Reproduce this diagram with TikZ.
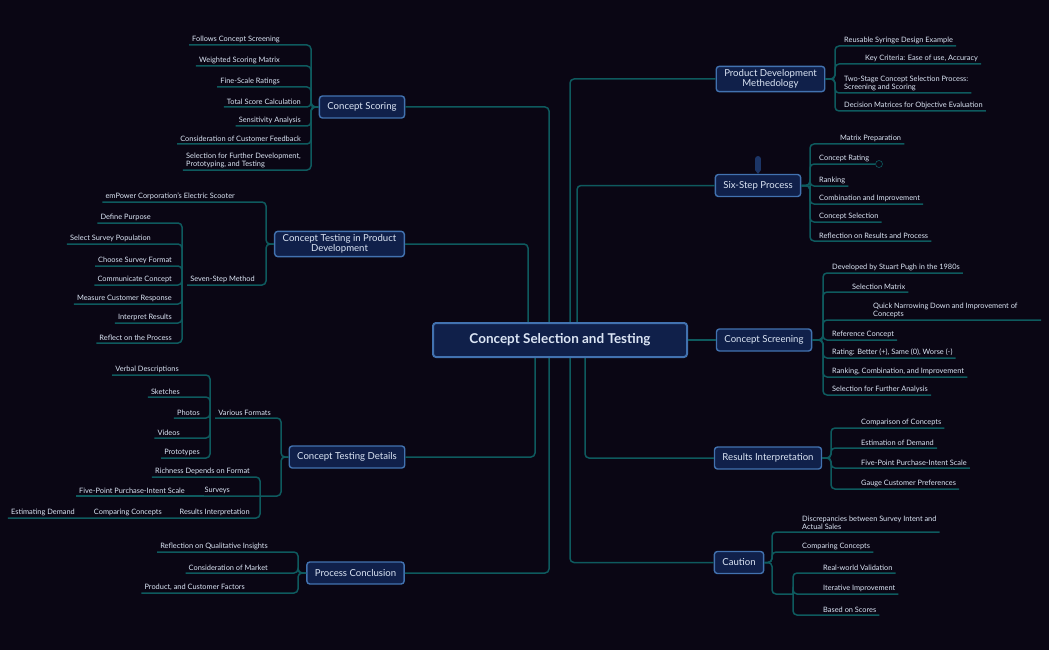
\documentclass[tikz,border=0pt]{standalone}
\usepackage{fontspec}
\setmainfont{Lato}
\usetikzlibrary{calc}
\definecolor{bg}{HTML}{0A0614}
\definecolor{ln}{HTML}{0E5A5E}
\definecolor{bfill}{HTML}{10204A}
\definecolor{bdraw}{HTML}{4272B0}
\definecolor{tx}{HTML}{DCE6F5}
\definecolor{pinc}{HTML}{1C3566}
\tikzset{
  conn/.style={draw=ln,line width=1.5pt,rounded corners=4pt},
  leaf/.style={text=tx,font=\fontsize{7.4}{7.8}\selectfont,inner xsep=0pt,inner ysep=2pt,align=left},
  branch/.style={draw=bdraw,fill=bfill,line width=1.4pt,rounded corners=3pt,text=tx,font=\fontsize{9.6}{10.8}\selectfont,inner xsep=8pt,minimum height=22pt,align=center},
  center/.style={draw=bdraw,fill=bfill,line width=2pt,rounded corners=3pt,text=tx,font=\fontsize{13.5}{15}\selectfont\bfseries,minimum width=254pt,minimum height=34pt}
}
\newcommand\lfR[6]{\node[leaf,anchor=south west] (#6) at (#4,#3) {#5};
  \draw[conn] (#1) -- (#2) |- ($(#6.south east)+(3,0)$);}
\newcommand\lfL[6]{\node[leaf,anchor=south east] (#6) at (#4,#3) {#5};
  \draw[conn] (#1) -- (#2) |- ($(#6.south west)+(-3,0)$);}
\begin{document}
\begin{tikzpicture}[x=1pt,y=-1pt]
\fill[bg] (0,0) rectangle (1049,650);
\useasboundingbox (0,0) rectangle (1049,650);
\coordinate (x549) at (549,0);
\coordinate (x528) at (528,0);
\coordinate (x535) at (535,0);
\coordinate (x570) at (570,0);
\coordinate (x577) at (577,0);
\coordinate (x585) at (585,0);
\node[branch] (CS) at (362,107) {Concept Scoring};
\node[branch] (CTPD) at (339.5,244) {Concept Testing in Product\\[-1pt]Development};
\node[branch] (CTD) at (347,457) {Concept Testing Details};
\node[branch] (PC) at (355.5,573) {Process Conclusion};
\node[branch] (PDM) at (770.5,79) {Product Development\\[-1pt]Methedology};
\node[branch] (SSP) at (758,185.5) {Six-Step Process};
\node[branch] (CSc) at (764,340) {Concept Screening};
\node[branch] (RI) at (768,458) {Results Interpretation};
\node[branch] (Ca) at (739,562.5) {Caution};
\coordinate (ctop) at (559,323);
\coordinate (cbot) at (559,357);
\draw[conn] (ctop -| x549) |- (CS.east);
\draw[conn] (ctop -| x528) |- (CTPD.east);
\draw[conn] (cbot -| x535) |- (CTD.east);
\draw[conn] (cbot -| x549) |- (PC.east);
\draw[conn] (ctop -| x570) |- (PDM.west);
\draw[conn] (ctop -| x577) |- (SSP.west);
\draw[conn] (cbot -| x585) |- (RI.west);
\draw[conn] (cbot -| x570) |- (Ca.west);
\node[center] (C) at (560,340) {Concept Selection and Testing};
\draw[conn] (C.east) -- (CSc.west);
\fill[pinc] (755,159) rectangle (761,170);
\fill[pinc] (755,170) -- (761,170) -- (758,174) -- cycle;
\fill[pinc] (758,159) circle (3);
\coordinate (jPDM) at (835,79);
\lfR{PDM.east}{jPDM}{46}{844}{Reusable Syringe Design Example}{p1}
\lfR{PDM.east}{jPDM}{64}{865}{Key Criteria: Ease of use, Accuracy}{p2}
\lfR{PDM.east}{jPDM}{93}{844}{Two-Stage Concept Selection Process:\\Screening and Scoring}{p3}
\lfR{PDM.east}{jPDM}{111}{844}{Decision Matrices for Objective Evaluation}{p4}
\coordinate (jSSP) at (810,185.5);
\lfR{SSP.east}{jSSP}{144}{840}{Matrix Preparation}{s1}
\node[circle,draw=ln,line width=0.6pt,inner sep=0pt,minimum size=7pt] (s2c) at (879,164) {};
\node[leaf,anchor=south west] (s2) at (819,164) {Concept Rating};
\draw[conn] (SSP.east) -- (jSSP) |- (s2c.west);
\lfR{SSP.east}{jSSP}{186}{819}{Ranking}{s3}
\lfR{SSP.east}{jSSP}{204}{819}{Combination and Improvement}{s4}
\lfR{SSP.east}{jSSP}{222}{819}{Concept Selection}{s5}
\lfR{SSP.east}{jSSP}{241}{819}{Reflection on Results and Process}{s6}
\coordinate (jCSc) at (823,340);
\lfR{CSc.east}{jCSc}{273}{832}{Developed by Stuart Pugh in the 1980s}{c1}
\lfR{CSc.east}{jCSc}{292}{852}{Selection Matrix}{c2}
\node[leaf,anchor=south west] (c3) at (873,320) {Quick Narrowing Down and Improvement of\\Concepts};
\coordinate (c3e) at (1041,320);
\draw[conn] (CSc.east) -- (jCSc) |- (c3e);
\lfR{CSc.east}{jCSc}{340}{832}{Reference Concept}{c4}
\lfR{CSc.east}{jCSc}{358}{832}{Rating: Better (+), Same (0), Worse (-)}{c5}
\lfR{CSc.east}{jCSc}{377}{832}{Ranking, Combination, and Improvement}{c6}
\lfR{CSc.east}{jCSc}{395}{832}{Selection for Further Analysis}{c7}
\coordinate (jRI) at (831,458);
\lfR{RI.east}{jRI}{428}{861}{Comparison of Concepts}{r1}
\lfR{RI.east}{jRI}{448}{861}{Estimation of Demand}{r2}
\lfR{RI.east}{jRI}{468}{861}{Five-Point Purchase-Intent Scale}{r3}
\lfR{RI.east}{jRI}{489}{861}{Gauge Customer Preferences}{r4}
\coordinate (jCa) at (772,562.5);
\lfR{Ca.east}{jCa}{532}{802}{Discrepancies between Survey Intent and\\Actual Sales}{a1}
\lfR{Ca.east}{jCa}{552}{802}{Comparing Concepts}{a2}
\coordinate (cB) at (793,594);
\draw[conn] (Ca.east) -- (jCa) |- (cB);
\lfR{cB}{cB}{573}{823}{Real-world Validation}{a3}
\lfR{cB}{cB}{594}{823}{Iterative Improvement}{a4}
\lfR{cB}{cB}{615}{823}{Based on Scores}{a5}
\coordinate (jCS) at (311,107);
\lfL{CS.west}{jCS}{45}{280}{Follows Concept Screening}{k1}
\lfL{CS.west}{jCS}{66}{280}{Weighted Scoring Matrix}{k2}
\lfL{CS.west}{jCS}{87}{280}{Fine-Scale Ratings}{k3}
\lfL{CS.west}{jCS}{107}{301}{Total Score Calculation}{k4}
\lfL{CS.west}{jCS}{126}{301}{Sensitivity Analysis}{k5}
\lfL{CS.west}{jCS}{144}{301}{Consideration of Customer Feedback}{k6}
\lfL{CS.west}{jCS}{170}{301}{Selection for Further Development,\\Prototyping, and Testing}{k7}
\coordinate (jCT) at (266,244);
\lfL{CTPD.west}{jCT}{202}{235}{emPower Corporation's Electric Scooter}{t1}
\lfL{CTPD.west}{jCT}{285}{255}{Seven-Step Method}{t2}
\coordinate (j7) at (182,285);
\lfL{j7}{j7}{223}{151}{Define Purpose}{m1}
\lfL{j7}{j7}{244}{151}{Select Survey Population}{m2}
\lfL{j7}{j7}{266}{172}{Choose Survey Format}{m3}
\lfL{j7}{j7}{285}{172}{Communicate Concept}{m4}
\lfL{j7}{j7}{304}{172}{Measure Customer Response}{m5}
\lfL{j7}{j7}{323}{172}{Interpret Results}{m6}
\lfL{j7}{j7}{343}{172}{Reflect on the Process}{m7}
\coordinate (jCTD) at (281,457);
\lfL{CTD.west}{jCTD}{418}{271}{Various Formats}{d1}
\coordinate (jVF) at (210,418);
\lfL{jVF}{jVF}{375}{179}{Verbal Descriptions}{v1}
\lfL{jVF}{jVF}{397}{180}{Sketches}{v2}
\lfL{jVF}{jVF}{418}{200}{Photos}{v3}
\lfL{jVF}{jVF}{438}{180}{Videos}{v4}
\lfL{jVF}{jVF}{458}{200}{Prototypes}{v5}
\lfL{CTD.west}{jCTD}{496}{230}{Surveys}{d2}
\node[leaf,anchor=south east] (fp) at (185,496) {Five-Point Purchase-Intent Scale};
\draw[conn] (d2.south west) -- ($(fp.south west)+(-3,0)$);
\node[leaf,anchor=south east] (rd) at (250,477) {Richness Depends on Format};
\node[leaf,anchor=south east] (ri) at (250,518) {Results Interpretation};
\node[leaf,anchor=south east] (cc) at (162,518) {Comparing Concepts};
\node[leaf,anchor=south east] (ed) at (75,518) {Estimating Demand};
\coordinate (j260) at (260,518);
\draw[conn] ($(rd.south west)+(-3,0)$) -| (j260) -- ($(ed.south west)+(-3,0)$);
\coordinate (jPC) at (298,573);
\lfL{PC.west}{jPC}{552}{268}{Reflection on Qualitative Insights}{q1}
\lfL{PC.west}{jPC}{573}{268}{Consideration of Market}{q2}
\lfL{PC.west}{jPC}{593}{245}{Product, and Customer Factors}{q3}
\end{tikzpicture}
\end{document}
